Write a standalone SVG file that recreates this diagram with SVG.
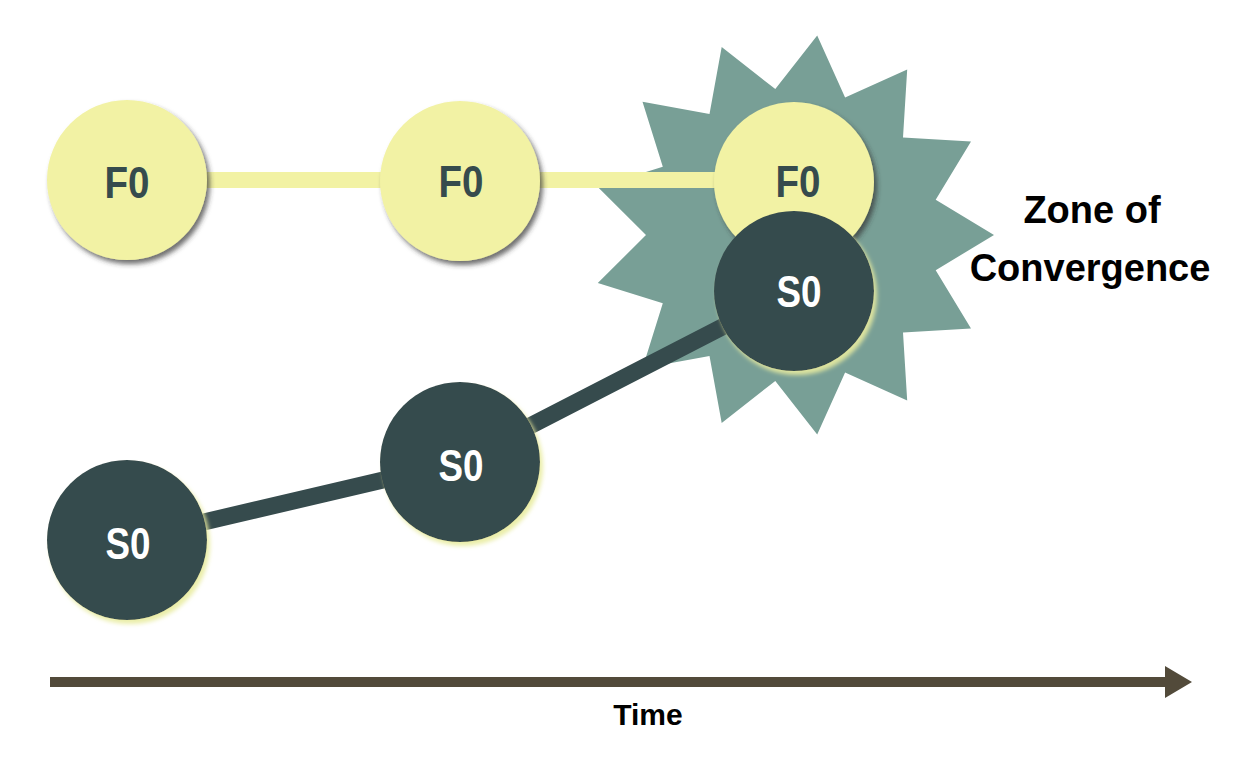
<svg xmlns="http://www.w3.org/2000/svg" width="1241" height="764" viewBox="0 0 1241 764">
  <defs>
    <filter id="shF" x="-20%" y="-20%" width="150%" height="150%">
      <feDropShadow dx="3" dy="4" stdDeviation="2.5" flood-color="#333" flood-opacity="0.7"/>
    </filter>
    <filter id="shS" x="-20%" y="-20%" width="150%" height="150%">
      <feDropShadow dx="3" dy="4" stdDeviation="2" flood-color="#e8eca0" flood-opacity="0.9"/>
    </filter>
    <marker id="arr" markerUnits="userSpaceOnUse" markerWidth="30" markerHeight="34" refX="0" refY="16" orient="auto">
      <path d="M0,0 L27,16 L0,32 Z" fill="#524a3a"/>
    </marker>
  </defs>
  <style>
    .f { fill: #f2f2a4; filter: url(#shF); }
    .s { fill: #364b4d; filter: url(#shS); }
    .ft { font-family: "Liberation Sans", Arial, sans-serif; font-weight: bold; font-size: 44px; fill: #364b4d; text-anchor: middle; }
    .st { font-family: "Liberation Sans", Arial, sans-serif; font-weight: bold; font-size: 44px; fill: #ffffff; text-anchor: middle; }
    .lbl { font-family: "Liberation Sans", Arial, sans-serif; font-weight: bold; fill: #000; text-anchor: middle; }
  </style>
  <rect width="1241" height="764" fill="#ffffff"/>

  <g id="zone">
    <polygon fill="#789f96" points="994,235 935.7,270.2 971,328.4 903,332.5 907.2,400.4 845.1,372.4 817.2,434.5 775.3,380.9 721.7,422.9 709.5,356 642.5,368.3 662.8,303.3 597.8,283.1 646,235 597.8,186.9 662.8,166.7 642.5,101.7 709.5,114 721.7,47.1 775.3,89.1 817.2,35.5 845.1,97.6 907.2,69.6 903,137.5 971,141.6 935.7,199.8"/>
  </g>

  <g id="connectors">
    <line x1="127" y1="180" x2="794" y2="180" stroke="#f2f2a4" stroke-width="16"/>
    <polyline points="127,540 460,462 794,290" fill="none" stroke="#364b4d" stroke-width="17" stroke-linejoin="round"/>
    <line x1="50" y1="682" x2="1165" y2="682" stroke="#524a3a" stroke-width="10" marker-end="url(#arr)"/>
  </g>

  <g id="f0-1">
    <circle class="f" cx="127" cy="180" r="80"/>
    <text class="ft" x="127" y="198" textLength="45" lengthAdjust="spacingAndGlyphs">F0</text>
  </g>
  <g id="f0-2">
    <circle class="f" cx="460" cy="181" r="80"/>
    <text class="ft" x="461" y="197" textLength="45" lengthAdjust="spacingAndGlyphs">F0</text>
  </g>
  <g id="f0-3">
    <circle class="f" cx="794" cy="182" r="80"/>
    <text class="ft" x="798" y="197" textLength="45" lengthAdjust="spacingAndGlyphs">F0</text>
  </g>

  <g id="s0-1">
    <circle class="s" cx="127" cy="540" r="80"/>
    <text class="st" x="128" y="559" textLength="45" lengthAdjust="spacingAndGlyphs">S0</text>
  </g>
  <g id="s0-2">
    <circle class="s" cx="460" cy="462" r="80"/>
    <text class="st" x="461" y="481" textLength="45" lengthAdjust="spacingAndGlyphs">S0</text>
  </g>
  <g id="s0-3">
    <circle class="s" cx="794" cy="291" r="80"/>
    <text class="st" x="799" y="307" textLength="45" lengthAdjust="spacingAndGlyphs">S0</text>
  </g>

  <g id="zone-label">
    <text class="lbl" x="1092" y="223" font-size="38">Zone of</text>
    <text class="lbl" x="1090" y="281" font-size="38">Convergence</text>
  </g>
  <g id="time-label">
    <text class="lbl" x="648" y="725" font-size="30">Time</text>
  </g>
</svg>
